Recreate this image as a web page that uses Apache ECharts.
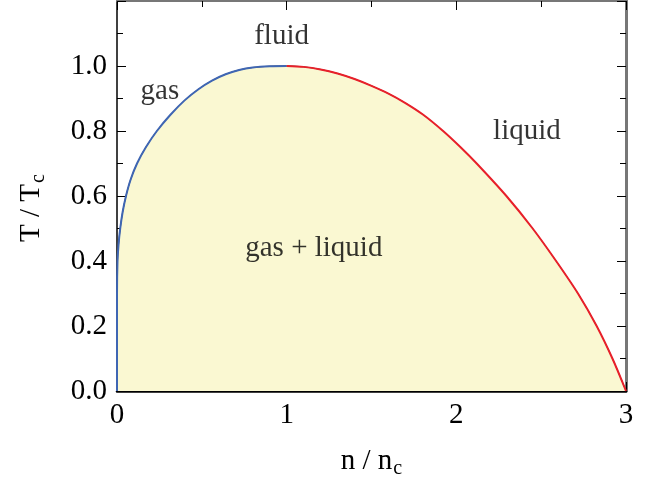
<!DOCTYPE html>
<html>
<head>
<meta charset="utf-8">
<script src="https://cdn.jsdelivr.net/npm/echarts@6/dist/echarts.min.js"></script>
<style>
  html, body { margin: 0; padding: 0; background: #fff; }
  #chart { width: 657px; height: 485px; }
</style>
</head>
<body>
<div id="chart"></div>
<script>
// Coexistence curve in reduced units: density n/nc vs temperature T/Tc
const gasDensity = [0, 0, 0.003, 0.009, 0.019, 0.033, 0.053, 0.08, 0.118, 0.17, 0.235, 0.315, 0.40, 0.48, 0.56, 0.64, 0.72, 0.80, 0.90, 1.0];
const gasTemp    = [0, 0.30, 0.40, 0.45, 0.50, 0.55, 0.60, 0.65, 0.70, 0.75, 0.80, 0.85, 0.895, 0.9286, 0.955, 0.9746, 0.9878, 0.9954, 0.9992, 1.0];

const liquidDensity = [1.0, 1.1, 1.2, 1.3, 1.4, 1.5, 1.6, 1.7, 1.805, 1.922, 2.025, 2.12, 2.295, 2.45, 2.588, 2.717, 2.827, 2.92, 3.0];
const liquidTemp    = [1.0, 0.9973, 0.9895, 0.977, 0.96, 0.939, 0.915, 0.886, 0.85, 0.80, 0.75, 0.70, 0.60, 0.50, 0.40, 0.30, 0.20, 0.10, 0.0];

const xTicks = [0, 1, 2, 3];
const yTicks = [0.0, 0.2, 0.4, 0.6, 0.8, 1.0];

const regionLabels = ['fluid', 'gas', 'liquid', 'gas + liquid'];
const regionAt = [[0.97, 1.09], [0.253, 0.923], [2.416, 0.798], [1.16, 0.439]];

const pairs = (xs, ys) => xs.map((x, i) => [x, ys[i]]);
const gasLine = pairs(gasDensity, gasTemp);
const liquidLine = pairs(liquidDensity, liquidTemp);
const envelope = gasLine.concat(liquidLine.slice(1));

const FONT = '"Liberation Serif", "DejaVu Serif", serif';
const FS = 29;

const tickStyle = { color: '#000', width: 1 };
const baseX = {
  type: 'value', min: 0, max: 3, interval: 1,
  axisTick: { show: true, inside: true, length: 9, lineStyle: tickStyle },
  minorTick: { show: true, splitNumber: 2, length: 6, lineStyle: tickStyle },
  splitLine: { show: false }
};
const baseY = {
  type: 'value', min: 0, max: 1.2, interval: 0.2,
  axisTick: { show: true, inside: true, length: 9, lineStyle: tickStyle },
  minorTick: { show: true, splitNumber: 2, length: 6, lineStyle: tickStyle },
  splitLine: { show: false }
};
const subRich = {
  m: { fontSize: FS, fontFamily: FONT, fill: '#000', color: '#000' },
  s: { fontSize: 20, fontFamily: FONT, fill: '#000', color: '#000', padding: [16, 0, 0, 1] }
};
const CURVE_SMOOTH = 0.3;

const chart = echarts.init(document.getElementById('chart'));
chart.setOption({
  animation: false,
  backgroundColor: '#fff',
  grid: { left: 117, right: 31, top: 1, bottom: 94 },
  textStyle: { fontFamily: FONT },
  // vertical title of the temperature axis
  graphic: [{
    type: 'text',
    x: 31,
    y: 208,
    rotation: Math.PI / 2,
    style: {
      text: '{m|T / T}{s|c}',
      rich: subRich,
      align: 'center',
      verticalAlign: 'middle'
    }
  }],
  xAxis: [
    Object.assign({}, baseX, {
      position: 'bottom',
      axisLine: { onZero: false, lineStyle: { color: '#000', width: 2.5 } },
      axisLabel: {
        color: '#000', fontSize: FS, fontFamily: FONT, margin: 10,
        formatter: v => xTicks.includes(v) ? String(v) : ''
      },
      name: '{m|n / n}{s|c}',
      nameLocation: 'middle',
      nameGap: 52,
      nameTextStyle: { rich: subRich }
    }),
    Object.assign({}, baseX, {
      position: 'top',
      axisLine: { onZero: false, lineStyle: { color: '#777', width: 2 } },
      axisLabel: { show: false }
    })
  ],
  yAxis: [
    Object.assign({}, baseY, {
      position: 'left',
      axisLine: { onZero: false, lineStyle: { color: '#000', width: 1.5 } },
      axisLabel: {
        color: '#000', fontSize: FS, fontFamily: FONT, margin: 10,
        formatter: v => {
          const hit = yTicks.find(t => Math.abs(t - v) < 1e-6);
          return hit === undefined ? '' : hit.toFixed(1);
        }
      }
    }),
    Object.assign({}, baseY, {
      position: 'right',
      axisLine: { onZero: false, lineStyle: { color: '#777', width: 3 } },
      axisLabel: { show: false }
    })
  ],
  series: [
    {
      name: 'two-phase region',
      type: 'line',
      data: envelope,
      showSymbol: false,
      smooth: CURVE_SMOOTH,
      lineStyle: { color: '#222', width: 1 },
      areaStyle: { color: '#FAF8D2', opacity: 1, origin: 'start' },
      z: 1
    },
    {
      name: 'gas branch',
      type: 'line',
      data: gasLine,
      showSymbol: false,
      smooth: CURVE_SMOOTH,
      lineStyle: { color: '#3F66B3', width: 2 },
      z: 3
    },
    {
      name: 'liquid branch',
      type: 'line',
      data: liquidLine,
      showSymbol: false,
      smooth: CURVE_SMOOTH,
      lineStyle: { color: '#E8202A', width: 2 },
      z: 3
    },
    {
      name: 'regions',
      type: 'scatter',
      symbolSize: 0,
      silent: true,
      data: regionAt.map((p, i) => ({ value: p, name: regionLabels[i] })),
      label: {
        show: true,
        position: 'inside',
        formatter: p => p.name,
        color: '#000',
        fontSize: FS,
        fontFamily: FONT
      },
      z: 5
    }
  ]
});
</script>
</body>
</html>
